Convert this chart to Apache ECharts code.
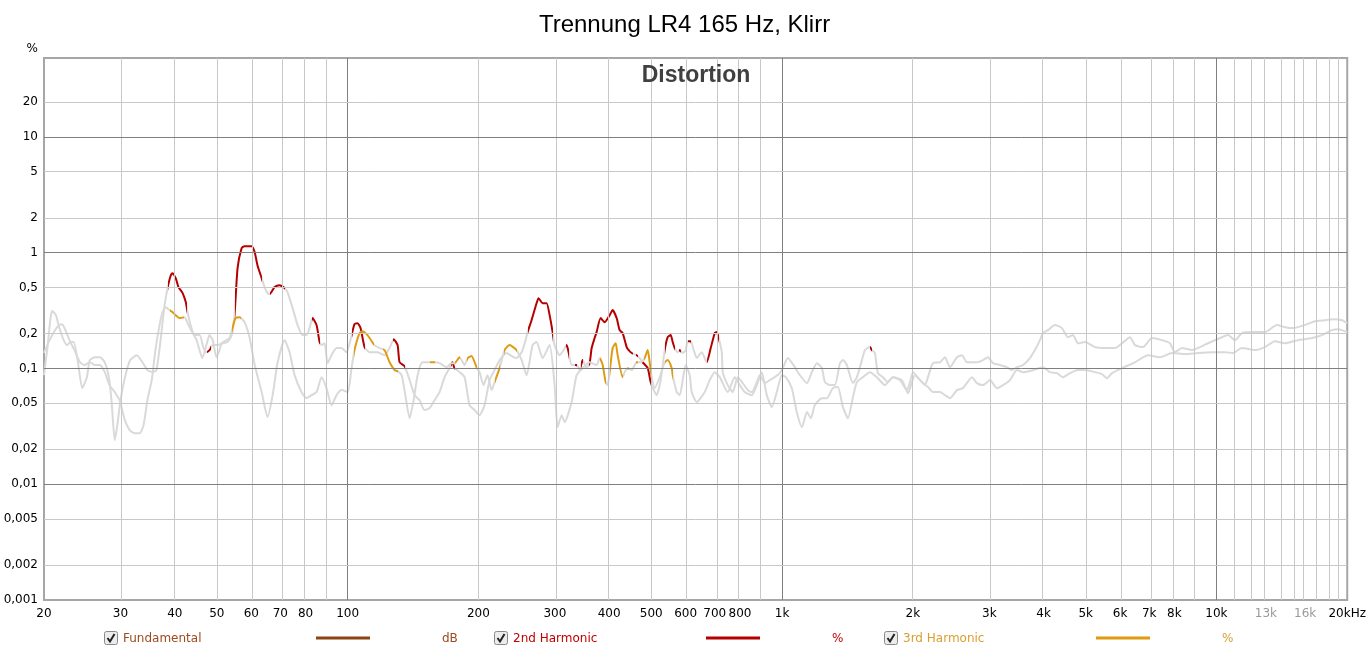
<!DOCTYPE html>
<html>
<head>
<meta charset="utf-8">
<title>Trennung LR4 165 Hz, Klirr</title>
<script src="https://cdn.jsdelivr.net/npm/echarts@6.0.0/dist/echarts.min.js"></script>
<style>
  html, body { margin: 0; padding: 0; background: #fff; }
  #chart { width: 1369px; height: 658px; }
</style>
</head>
<body>
<div id="chart"></div>
<script>
// Achsen: Frequenz (Hz) und Klirr (%)
const xTicks = [20, 30, 40, 50, 60, 70, 80, 100, 200, 300, 400, 500, 600, 700, 800,
  1000, 2000, 3000, 4000, 5000, 6000, 7000, 8000, 10000, 13000, 16000, 20000];
const xTickLabels = ['20', '30', '40', '50', '60', '70', '80', '100', '200', '300', '400', '500', '600', '700', '800',
  '1k', '2k', '3k', '4k', '5k', '6k', '7k', '8k', '10k', '{g|13k}', '{g|16k}', '20kHz'];
const xGridMinor = [30, 40, 50, 60, 70, 80, 90, 200, 300, 400, 500, 600, 700, 800, 900,
  2000, 3000, 4000, 5000, 6000, 7000, 8000, 9000,
  11000, 12000, 13000, 14000, 15000, 16000, 17000, 18000, 19000];
const xGridMajor = [100, 1000, 10000];

const yTicks = [0.001, 0.002, 0.005, 0.01, 0.02, 0.05, 0.1, 0.2, 0.5, 1, 2, 5, 10, 20];
const yTickLabels = ['0,001', '0,002', '0,005', '0,01', '0,02', '0,05', '0,1', '0,2', '0,5', '1', '2', '5', '10', '20'];
const yGridMinor = [0.002, 0.005, 0.02, 0.05, 0.2, 0.5, 2, 5, 20];
const yGridMajor = [0.01, 0.1, 1, 10];

// 2. Harmonische (rot, wo gueltig)
const h2Freq = [20, 20.4, 20.7, 20.9, 21.3, 21.6, 22.1, 22.6, 23.0, 23.4, 23.9, 24.5, 25.1, 25.5, 26.2, 26.9, 27.6, 28.2, 28.6, 29.1,
  29.5, 30.0, 30.8, 31.6, 32.7, 33.7, 34.6, 35.6, 36.3, 37.1, 37.9, 38.5, 39.1, 39.5, 40.2, 40.8, 41.7, 42.4, 42.8, 43.5,
  44.4, 45.6, 46.6, 47.3, 48.1, 48.9, 50.2, 51.5, 52.9, 54.1, 54.9, 55.8, 57.0, 57.9, 60.1, 61.1, 62.0, 63.4, 64.4, 65.4,
  66.1, 67.9, 69.7, 71.6, 72.7, 74.7, 76.7, 78.8, 80.4, 81.7, 83.0, 84.8, 86.2, 87.1, 88.5, 89.9, 91.8, 94.3, 96.8, 99.4,
  101.5, 103.7, 105.4, 107.1, 109.4, 112.3, 117.2, 121.6, 124.9, 127.6, 130.3, 131.7, 135.2, 138.9, 142.6, 146.4, 150.3, 154.4, 158.6, 162.8,
  167.2, 171.6, 174.3, 176.2, 181.0, 185.9, 190.8, 195.9, 201.2, 206.6, 212.2, 217.9, 223.8, 232.3, 238.4, 244.8, 251.5, 256.8, 259.6, 265.1,
  272.2, 275.1, 281.0, 287.1, 291.7, 296.4, 299.5, 307.6, 314.2, 319.2, 322.6, 327.8, 336.6, 342.0, 347.5, 354.9, 360.6, 364.5, 370.3, 374.2,
  382.3, 390.5, 401.0, 407.4, 416.2, 422.8, 429.6, 438.8, 443.5, 450.7, 462.8, 470.2, 477.7, 490.6, 498.4, 506.5, 514.5, 525.6, 536.9, 545.5,
  554.2, 560.1, 566.1, 575.2, 581.3, 590.6, 600.1, 606.5, 616.2, 626.2, 636.2, 653.3, 670.8, 685.2, 700.0, 707.4, 714.9, 726.5, 730.3, 750.0,
  770.0, 790.8, 812.0, 833.9, 851.8, 874.7, 888.7, 912.6, 937.1, 962.3, 988.2, 1004, 1031, 1070, 1099, 1141, 1171, 1203, 1235, 1255,
  1288, 1323, 1359, 1381, 1410, 1456, 1487, 1527, 1552, 1593, 1610, 1636, 1662, 1707, 1753, 1799, 1868, 1939, 1970, 2002,
  2077, 2133, 2167, 2225, 2309, 2371, 2435, 2527, 2595, 2665, 2809, 2901, 2979, 3058, 3174, 3294, 3383, 3474, 3586, 3721,
  3821, 3924, 3987, 4094, 4248, 4409, 4551, 4674, 4800, 4980, 5252, 5538, 5839, 6060, 6322, 6492, 6774, 7105, 7491, 7816,
  8026, 8329, 8783, 9163, 9561, 10297, 10630, 11031, 11448, 12265, 12933, 13782, 14380, 15001, 15988, 16859, 17776, 18545, 19453, 20000];
const h2Pct = [0.0875, 0.159, 0.272, 0.313, 0.289, 0.237, 0.183, 0.159, 0.169, 0.169, 0.118, 0.0676, 0.0841, 0.118, 0.125, 0.125, 0.113, 0.0841, 0.0533, 0.024,
  0.0324, 0.0533, 0.0875, 0.118, 0.130, 0.113, 0.0967, 0.0929, 0.0967, 0.1755, 0.352, 0.494, 0.626, 0.665, 0.602, 0.504, 0.447, 0.374, 0.307, 0.237,
  0.194, 0.194, 0.150, 0.138, 0.144, 0.159, 0.159, 0.165, 0.169, 0.194, 0.2885, 0.734, 1.093, 1.137, 1.137, 1.009, 0.779, 0.602, 0.504, 0.447,
  0.438, 0.504, 0.524, 0.494, 0.456, 0.332, 0.237, 0.194, 0.194, 0.223, 0.272, 0.237, 0.169, 0.159, 0.165, 0.111, 0.130, 0.150, 0.150, 0.138,
  0.1755, 0.241, 0.246, 0.223, 0.153, 0.138, 0.138, 0.130, 0.150, 0.179, 0.159, 0.113, 0.1047, 0.0793, 0.0588, 0.0533, 0.0437, 0.0454, 0.0533, 0.0625,
  0.0841, 0.1006, 0.113, 0.1006, 0.0929, 0.0841, 0.0482, 0.0437, 0.0395, 0.0482, 0.0793, 0.0967, 0.118, 0.136, 0.128, 0.123, 0.138, 0.1755, 0.206, 0.261,
  0.366, 0.404, 0.366, 0.366, 0.2885, 0.206, 0.159, 0.130, 0.144, 0.159, 0.138, 0.107, 0.107, 0.0967, 0.118, 0.1006, 0.111, 0.150, 0.183, 0.206,
  0.272, 0.251, 0.2885, 0.319, 0.272, 0.214, 0.202, 0.153, 0.144, 0.136, 0.130, 0.123, 0.113, 0.1006, 0.0762, 0.065, 0.0588, 0.0793, 0.144, 0.186,
  0.194, 0.169, 0.150, 0.138, 0.144, 0.136, 0.144, 0.172, 0.172, 0.144, 0.123, 0.138, 0.113, 0.150, 0.202, 0.206, 0.183, 0.138, 0.0929, 0.0718,
  0.0625, 0.0841, 0.0747, 0.065, 0.0625, 0.0762, 0.0875, 0.0747, 0.0793, 0.0841, 0.0911, 0.1006, 0.123, 0.1026, 0.0875, 0.0747, 0.0929, 0.111, 0.1006, 0.0762,
  0.0718, 0.0718, 0.111, 0.118, 0.107, 0.0747, 0.0841, 0.118, 0.144, 0.153, 0.144, 0.136, 0.0911, 0.0841, 0.0762, 0.0841, 0.0793, 0.065, 0.0762, 0.0929,
  0.0793, 0.0718, 0.0841, 0.111, 0.113, 0.125, 0.1026, 0.125, 0.130, 0.113, 0.113, 0.118, 0.125, 0.111, 0.107, 0.1026, 0.0967, 0.1026, 0.107, 0.123,
  0.144, 0.1755, 0.202, 0.214, 0.237, 0.223, 0.186, 0.194, 0.165, 0.169, 0.153, 0.150, 0.150, 0.165, 0.186, 0.159, 0.153, 0.183, 0.1755, 0.165,
  0.138, 0.150, 0.144, 0.153, 0.165, 0.186, 0.194, 0.1755, 0.202, 0.206, 0.206, 0.237, 0.227, 0.223, 0.237, 0.256, 0.261, 0.266, 0.261, 0.246];
// Bereiche (Hz), in denen die 2. Harmonische farbig gezeichnet ist
const h2Valid = [[38.5, 42.6], [47.5, 48.5], [54.9, 63.4], [66.1, 71.6], [82.6, 86.2], [102.1, 109.4], [126.9, 135.2],
  [173.4, 176.2], [259.6, 296.4], [317.5, 322.6], [333, 338], [345, 349], [358.7, 453], [460, 465], [475, 498],
  [537, 566], [578, 584], [606, 616], [671, 715], [1593, 1610]];

// 3. Harmonische (orange, wo gueltig)
const h3Freq = [20, 20.6, 21.2, 21.7, 22.0, 22.3, 22.9, 23.5, 24.2, 24.8, 25.5, 26.2, 26.9, 27.6, 28.3, 29.1, 29.9, 30.7, 31.5, 32.3,
  33.2, 33.9, 34.6, 35.4, 36.1, 36.9, 37.5, 38.1, 38.9, 39.5, 40.4, 41.0, 42.1, 43.0, 44.0, 44.9, 45.6, 46.3, 47.3, 48.1,
  48.9, 49.9, 50.7, 51.3, 52.6, 53.5, 54.3, 55.2, 56.4, 57.9, 59.5, 61.1, 63.4, 65.4, 67.2, 69.0, 71.6, 73.5, 75.5, 78.3,
  80.4, 82.6, 84.8, 87.1, 89.4, 91.8, 94.3, 96.8, 100, 102.1, 103.7, 106.5, 108.2, 111.1, 115.3, 118.4, 121.6, 124.9, 128.3, 130.3,
  133.1, 135.2, 138.9, 141.9, 144.9, 148.7, 154.4, 158.6, 162.8, 169.0, 173.4, 176.2, 181.0, 185.9, 188.9, 192.8, 198.0, 201.2, 205.5, 209.9,
  214.5, 217.9, 223.8, 229.8, 235.9, 244.8, 251.5, 258.2, 266.5, 272.2, 281.0, 291.7, 299.5, 304.4, 310.9, 315.9, 327.8, 336.6, 347.5, 360.6,
  374.2, 380.3, 386.4, 392.6, 396.8, 401.0, 407.4, 414.0, 418.4, 429.6, 434.2, 441.1, 450.7, 462.8, 472.7, 482.8, 490.6, 495.8, 501.1, 509.1,
  522.8, 536.9, 545.5, 557.2, 560.1, 572.1, 581.3, 590.6, 600.1, 613.0, 619.6, 636.2, 663.8, 681.6, 700.0, 718.8, 750.0, 778.3, 799.2, 820.7,
  851.8, 874.7, 898.2, 922.3, 947.1, 972.5, 998.8, 1020, 1053, 1081, 1111, 1141, 1165, 1190, 1235, 1268, 1309, 1344, 1381, 1418,
  1456, 1487, 1535, 1593, 1653, 1725, 1799, 1888, 1949, 2023, 2099, 2167, 2225, 2309, 2371, 2435, 2527, 2609, 2736, 2809,
  2901, 3010, 3124, 3225, 3347, 3474, 3586, 3781, 3987, 4137, 4293, 4432, 4600, 4800, 4980, 5252, 5451, 5597, 5747, 6060,
  6492, 6956, 7412, 7900, 8463, 9067, 9765, 10462, 10914, 11448, 12265, 12933, 13637, 14380, 15406, 16593, 17495, 18448, 19045, 20000];
const h3Pct = [0.136, 0.1755, 0.214, 0.237, 0.241, 0.223, 0.1755, 0.144, 0.113, 0.107, 0.113, 0.107, 0.107, 0.0929, 0.0718, 0.0625, 0.0522, 0.0358, 0.0293, 0.0276,
  0.0276, 0.0324, 0.0533, 0.0793, 0.144, 0.237, 0.307, 0.338, 0.319, 0.307, 0.283, 0.272, 0.277, 0.237, 0.202, 0.1755, 0.144, 0.123, 0.159, 0.194,
  0.1755, 0.125, 0.144, 0.165, 0.1755, 0.183, 0.223, 0.272, 0.277, 0.251, 0.183, 0.107, 0.0625, 0.038, 0.0588, 0.113, 0.1755, 0.138, 0.0875, 0.0625,
  0.0554, 0.0588, 0.0625, 0.0841, 0.0676, 0.0482, 0.0588, 0.065, 0.0625, 0.1006, 0.144, 0.202, 0.210, 0.194, 0.159, 0.150, 0.144, 0.113, 0.0967, 0.0948,
  0.0875, 0.065, 0.0372, 0.0533, 0.0875, 0.113, 0.113, 0.113, 0.111, 0.1026, 0.111, 0.111, 0.125, 0.107, 0.123, 0.128, 0.1026, 0.0929, 0.0718, 0.0875,
  0.065, 0.0762, 0.1006, 0.144, 0.159, 0.144, 0.118, 0.0875, 0.159, 0.169, 0.123, 0.159, 0.0718, 0.0311, 0.0395, 0.0344, 0.0512, 0.0875, 0.1006, 0.113,
  0.107, 0.123, 0.107, 0.0762, 0.0718, 0.0929, 0.150, 0.165, 0.130, 0.0841, 0.0929, 0.1006, 0.0967, 0.113, 0.113, 0.123, 0.144, 0.113, 0.0841, 0.0676,
  0.0841, 0.113, 0.118, 0.1006, 0.0875, 0.0625, 0.0588, 0.0793, 0.107, 0.0875, 0.0625, 0.0512, 0.0625, 0.0793, 0.0929, 0.0841, 0.0625, 0.0841, 0.0718, 0.0625,
  0.0588, 0.0718, 0.0929, 0.0588, 0.0463, 0.0625, 0.0875, 0.0841, 0.0676, 0.042, 0.0311, 0.042, 0.0372, 0.0482, 0.0554, 0.0554, 0.0676, 0.069, 0.0463, 0.0372,
  0.0565, 0.0762, 0.0841, 0.0929, 0.0841, 0.0718, 0.0841, 0.0793, 0.0612, 0.0875, 0.0762, 0.069, 0.0625, 0.0625, 0.0588, 0.0554, 0.065, 0.0676, 0.0841, 0.0747,
  0.0718, 0.0793, 0.0676, 0.0718, 0.0793, 0.0967, 0.0929, 0.0967, 0.1026, 0.0929, 0.0911, 0.0841, 0.0911, 0.0967, 0.0967, 0.0929, 0.0893, 0.0824, 0.0911, 0.1006,
  0.113, 0.130, 0.125, 0.136, 0.133, 0.136, 0.138, 0.138, 0.136, 0.150, 0.144, 0.153, 0.172, 0.165, 0.1755, 0.183, 0.194, 0.214, 0.218, 0.206];
// Bereiche (Hz), in denen die 3. Harmonische farbig gezeichnet ist
const h3Valid = [[39.1, 42.1], [54.3, 56.7], [103.7, 115.3], [120.9, 130.3], [154.4, 158.6], [176.2, 181.0], [187.8, 198.0],
  [217.9, 223.8], [228.6, 244.8], [380.3, 392.6], [401.0, 429.6], [439, 444], [460, 465], [480, 501], [537, 560]];

const GRAY = '#d9d9d9';
const RED = '#b40000';
const ORANGE = '#e09c10';
const FONT = 'DejaVu Sans';

const lg = Math.log10;
const toPairs = (fs, ps) => fs.map((f, i) => [lg(f), lg(ps[i])]);
const findLabel = (ticks, labels, v) => {
  const i = ticks.findIndex(t => Math.abs(lg(t) - v) < 1e-4);
  return i >= 0 ? labels[i] : '';
};

// Gitterlinien als markLine
const gridLines = [].concat(
  xGridMinor.map(v => ({ xAxis: lg(v), lineStyle: { color: '#c8c8c8', width: 1, type: 'solid' } })),
  xGridMajor.map(v => ({ xAxis: lg(v), lineStyle: { color: '#7f7f7f', width: 1, type: 'solid' } })),
  yGridMinor.map(v => ({ yAxis: lg(v), lineStyle: { color: '#c8c8c8', width: 1, type: 'solid' } })),
  yGridMajor.map(v => ({ yAxis: lg(v), lineStyle: { color: '#7f7f7f', width: 1, type: 'solid' } }))
);

// Legende unten (Checkbox, Name, Linie, Einheit)
const legendItems = [
  { name: 'Fundamental', unit: 'dB', text: '#9c4a1e', line: '#8b4513', x: 104 },
  { name: '2nd Harmonic', unit: '%', text: '#c00000', line: RED, x: 494 },
  { name: '3rd Harmonic', unit: '%', text: '#d9a030', line: ORANGE, x: 884 }
];
function legendGraphics() {
  const out = [];
  const y = 631;
  legendItems.forEach(it => {
    out.push({ type: 'rect', shape: { x: it.x + 0.5, y: y + 0.5, width: 13, height: 13, r: 2 },
      style: { fill: '#ececec', stroke: '#8a8a8a', lineWidth: 1 } });
    out.push({ type: 'polyline', shape: { points: [[it.x + 3.5, y + 7], [it.x + 6, y + 10.5], [it.x + 10.5, y + 3]] },
      style: { stroke: '#222', lineWidth: 2, fill: 'none' } });
    out.push({ type: 'text', x: it.x + 19, y: y + 8,
      style: { text: it.name, fill: it.text, font: '12px "' + FONT + '"', verticalAlign: 'middle', align: 'left' } });
    out.push({ type: 'line', shape: { x1: it.x + 212, y1: y + 7, x2: it.x + 266, y2: y + 7 },
      style: { stroke: it.line, lineWidth: 3 } });
    out.push({ type: 'text', x: it.x + 338, y: y + 8,
      style: { text: it.unit, fill: it.text, font: '12px "' + FONT + '"', verticalAlign: 'middle', align: 'left' } });
  });
  return out;
}

const chart = echarts.init(document.getElementById('chart'), null, { renderer: 'canvas' });

chart.setOption({
  animation: false,
  backgroundColor: '#fff',
  title: {
    text: 'Trennung LR4 165 Hz, Klirr',
    left: 'center',
    top: 8,
    textStyle: { fontFamily: 'Liberation Sans', fontSize: 24, fontWeight: 'normal', color: '#000' }
  },
  grid: {
    left: 44, right: 21, top: 58, bottom: 58,
    show: true, borderColor: '#a6a6a6', borderWidth: 2, backgroundColor: '#fff'
  },
  xAxis: {
    type: 'value',
    min: lg(20),
    max: lg(20000),
    axisLine: { show: false },
    axisTick: { show: false },
    splitLine: { show: false },
    axisLabel: {
      customValues: xTicks.map(lg),
      formatter: v => findLabel(xTicks, xTickLabels, v),
      margin: 8,
      color: '#000',
      fontFamily: FONT,
      fontSize: 12,
      rich: { g: { color: '#9a9a9a', fontFamily: FONT, fontSize: 12 } }
    }
  },
  yAxis: {
    type: 'value',
    min: -3,
    max: lg(48),
    name: '%',
    nameLocation: 'end',
    nameGap: 3,
    nameTextStyle: { color: '#000', fontFamily: FONT, fontSize: 12, align: 'right', padding: [0, 6, 0, 0] },
    axisLine: { show: false },
    axisTick: { show: false },
    splitLine: { show: false },
    axisLabel: {
      customValues: yTicks.map(lg),
      formatter: v => findLabel(yTicks, yTickLabels, v),
      margin: 6,
      color: '#000',
      fontFamily: FONT,
      fontSize: 12
    }
  },
  visualMap: [
    {
      show: false, type: 'piecewise', seriesIndex: 1, dimension: 0,
      pieces: h2Valid.map(r => ({ gte: lg(r[0]), lte: lg(r[1]), color: RED })),
      outOfRange: { color: GRAY }
    },
    {
      show: false, type: 'piecewise', seriesIndex: 2, dimension: 0,
      pieces: h3Valid.map(r => ({ gte: lg(r[0]), lte: lg(r[1]), color: ORANGE })),
      outOfRange: { color: GRAY }
    }
  ],
  series: [
    {
      name: 'grid',
      type: 'line',
      data: [[lg(20), -3]],
      showSymbol: false,
      lineStyle: { opacity: 0 },
      silent: true,
      z: 1,
      markLine: {
        silent: true,
        symbol: ['none', 'none'],
        label: { show: false },
        emphasis: { disabled: true },
        animation: false,
        data: gridLines
      }
    },
    {
      name: '2nd Harmonic',
      type: 'line',
      data: toPairs(h2Freq, h2Pct),
      showSymbol: false,
      smooth: 0.2,
      lineStyle: { width: 2 },
      z: 3
    },
    {
      name: '3rd Harmonic',
      type: 'line',
      data: toPairs(h3Freq, h3Pct),
      showSymbol: false,
      smooth: 0.2,
      lineStyle: { width: 2 },
      z: 3
    }
  ],
  graphic: [
    {
      type: 'text', x: 696, y: 76, z: 10,
      style: { text: 'Distortion', fill: '#404040', font: 'bold 23px "Liberation Sans"', align: 'center', verticalAlign: 'middle' }
    }
  ].concat(legendGraphics())
});
</script>
</body>
</html>
